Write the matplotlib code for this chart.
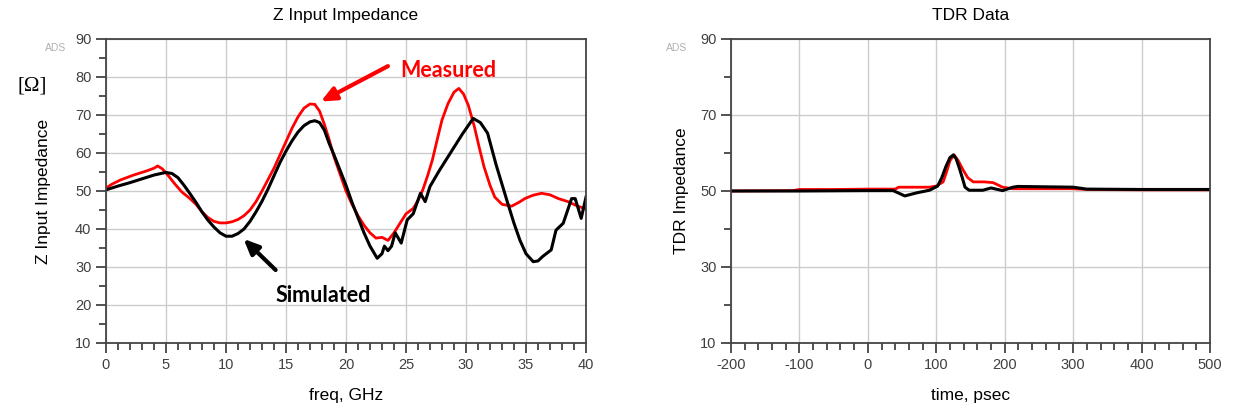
import numpy as np
import matplotlib
matplotlib.use('Agg')
import matplotlib.pyplot as plt
from matplotlib.ticker import MultipleLocator, FixedLocator

# ---- Z input impedance vs frequency ----
freq_meas = [0, 0.5, 1.2, 2.3, 3.4, 4.0, 4.3, 4.7, 5.2, 5.7, 6.3, 7.0, 7.5, 8.0, 8.5, 9.0, 9.5,
             10.0, 10.5, 11.0, 11.5, 12.0, 12.5, 13.0, 13.5, 14.0, 14.5, 15.0, 15.5, 16.0, 16.5,
             17.0, 17.4, 17.8, 18.2, 18.6, 19.0, 19.5, 20.0, 20.5, 21.0, 21.5, 22.0, 22.5, 23.0,
             23.5, 24.0, 24.5, 25.0, 25.6, 26.0, 26.4, 26.8, 27.2, 27.6, 28.0, 28.5, 29.0, 29.4,
             29.8, 30.2, 30.7, 31.1, 31.5, 32.0, 32.4, 33.0, 33.8, 34.4, 34.9, 35.6, 36.3, 37.0,
             37.7, 38.5, 39.1, 40.0]
z_meas = [50.8, 51.8, 52.9, 54.2, 55.3, 56.0, 56.6, 55.8, 54.0, 52.0, 49.8, 48.0, 46.5, 44.5,
          43.0, 42.0, 41.6, 41.6, 41.9, 42.5, 43.5, 45.0, 47.2, 50.0, 53.0, 56.0, 59.5, 63.0,
          66.5, 69.5, 71.8, 72.9, 72.8, 71.0, 67.5, 63.5, 59.0, 54.5, 50.0, 46.5, 43.5, 41.0,
          39.0, 37.6, 37.8, 37.0, 39.0, 41.5, 44.0, 45.4, 47.5, 50.3, 54.0, 58.2, 63.5, 68.7,
          73.0, 76.0, 77.0, 75.5, 72.5, 66.9, 61.5, 56.4, 51.5, 48.4, 46.5, 46.0, 47.0, 48.0,
          48.9, 49.4, 49.0, 48.0, 47.2, 46.3, 45.2]

freq_sim = [0, 1, 2, 3, 4, 5, 5.5, 6, 6.5, 7, 7.5, 8, 8.5, 9, 9.5, 10, 10.5, 11, 11.5, 12,
            12.5, 13, 13.5, 14, 14.5, 15, 15.5, 16, 16.5, 17, 17.4, 17.8, 18.2, 18.6, 19, 19.5,
            20, 20.5, 21, 21.5, 22, 22.6, 23, 23.2, 23.5, 23.8, 24.1, 24.6, 25.1, 25.6, 26.2,
            26.6, 27, 27.8, 28.7, 29.7, 30.6, 31.2, 31.8, 32.5, 33.4, 34, 34.5, 35, 35.6, 36,
            36.4, 37.1, 37.5, 38.1, 38.8, 39.1, 39.6, 40]
z_sim = [50.3, 51.3, 52.2, 53.2, 54.2, 54.9, 54.6, 53.5, 51.5, 49.3, 47.0, 44.5, 42.3, 40.5,
         39.0, 38.1, 38.1, 38.8, 40.0, 42.0, 44.5, 47.3, 50.5, 54.0, 57.5, 60.5, 63.2, 65.5,
         67.2, 68.2, 68.5, 68.0, 66.0, 62.5, 59.5, 55.5, 51.5, 47.0, 43.0, 39.0, 35.5, 32.3,
         33.5, 35.5, 34.3, 35.5, 39.0, 36.3, 42.4, 44.0, 49.4, 47.2, 51.2, 55.5, 60.0, 65.0,
         69.1, 68.0, 65.2, 57.0, 47.6, 41.5, 37.0, 33.5, 31.4, 31.6, 32.8, 34.5, 39.7, 41.5,
         48.0, 48.0, 42.8, 48.4]

# ---- TDR data ----
t_meas = [-200, -110, -100, -50, 0, 40, 45, 90, 100, 110, 115, 120, 126, 132, 139, 146, 154,
          170, 183, 197, 212, 300, 320, 400, 500]
tdr_meas = [50.0, 50.1, 50.4, 50.4, 50.5, 50.5, 51.0, 51.0, 51.3, 52.4, 55.0, 58.0, 59.5, 58.0,
            55.6, 53.5, 52.4, 52.4, 52.2, 51.0, 50.6, 50.6, 50.4, 50.3, 50.3]

t_sim = [-200, -100, 0, 37, 54, 71, 90, 102, 108, 114, 120, 125, 129, 133, 138, 142, 148, 168,
         180, 197, 212, 219, 300, 320, 400, 500]
tdr_sim = [50.0, 50.0, 50.1, 50.1, 48.7, 49.5, 50.2, 51.3, 53.5, 56.4, 58.8, 59.5, 58.5, 56.4,
           53.5, 51.0, 50.2, 50.2, 50.8, 50.1, 51.0, 51.2, 51.0, 50.5, 50.4, 50.4]

TICK = '#404040'
GRID = '#cccccc'

plt.rcParams['font.family'] = ['Liberation Sans', 'DejaVu Sans']
plt.rcParams['axes.unicode_minus'] = False

fig = plt.figure(figsize=(12.33, 4.12), dpi=100)
ax1 = fig.add_axes([106/1233, 69/412, 480/1233, 304/412])
ax2 = fig.add_axes([731/1233, 69/412, 479/1233, 304/412])


def style_axes(ax):
    for s in ax.spines.values():
        s.set_color('#444444')
        s.set_linewidth(1.3)
    ax.tick_params(which='major', direction='out', length=7, width=1.1, color='#222222',
                   labelsize=10.5, labelcolor=TICK)
    ax.tick_params(which='minor', direction='out', length=5, width=1.1, color='#222222')
    ax.grid(True, which='major', color=GRID, linewidth=1.0)
    ax.set_axisbelow(True)


# left panel
ax1.plot(freq_meas, z_meas, color='#ff0000', lw=2.0)
ax1.plot(freq_sim, z_sim, color='black', lw=2.2)
ax1.set_xlim(0, 40)
ax1.set_ylim(10, 90)
ax1.xaxis.set_major_locator(MultipleLocator(5))
ax1.xaxis.set_minor_locator(MultipleLocator(1))
ax1.yaxis.set_major_locator(MultipleLocator(10))
ax1.yaxis.set_minor_locator(MultipleLocator(5))
style_axes(ax1)
ax1.set_title('Z Input Impedance', fontsize=12.5, pad=14)
ax1.set_xlabel('freq, GHz', fontsize=12.5, labelpad=12)
ax1.set_ylabel('Z Input Impedance', fontsize=12.5, labelpad=17)

ax1.annotate('', xy=(17.7, 73.2), xytext=(23.7, 83.2),
             arrowprops=dict(arrowstyle='-|>,head_length=0.9,head_width=0.4',
                             color='#ff0000', lw=3))
ax1.text(24.5, 81.8, 'Measured', color='#ff0000', fontsize=15.5, fontweight='bold',
         family=['Lato', 'DejaVu Sans'], va='center', ha='left')
ax1.annotate('', xy=(11.3, 37.9), xytext=(14.3, 28.7),
             arrowprops=dict(arrowstyle='-|>,head_length=0.9,head_width=0.4',
                             color='black', lw=3))
ax1.text(14.1, 22.4, 'Simulated', color='black', fontsize=15.5, fontweight='bold',
         family=['Lato', 'DejaVu Sans'], va='center', ha='left')

fig.text(32/1233, 1 - 86/412, '[Ω]', fontsize=15, family=['Liberation Serif', 'DejaVu Serif'],
         ha='center', va='center')
fig.text(56/1233, 1 - 48/412, 'ADS', fontsize=7.5, color='#b0b0b0', ha='center', va='center')
fig.text(677/1233, 1 - 48/412, 'ADS', fontsize=7.5, color='#b0b0b0', ha='center', va='center')

# right panel
ax2.plot(t_meas, tdr_meas, color='#ff0000', lw=2.0)
ax2.plot(t_sim, tdr_sim, color='black', lw=2.2)
ax2.set_xlim(-200, 500)
ax2.set_ylim(10, 90)
ax2.xaxis.set_major_locator(MultipleLocator(100))
ax2.xaxis.set_minor_locator(MultipleLocator(20))
ax2.yaxis.set_major_locator(FixedLocator([10, 30, 50, 70, 90]))
ax2.yaxis.set_minor_locator(FixedLocator([20, 40, 60, 80]))
style_axes(ax2)
ax2.set_title('TDR Data', fontsize=12.5, pad=14)
ax2.set_xlabel('time, psec', fontsize=12.5, labelpad=12)
ax2.set_ylabel('TDR Impedance', fontsize=12.5, labelpad=8)

fig.savefig('out.png', dpi=100)
